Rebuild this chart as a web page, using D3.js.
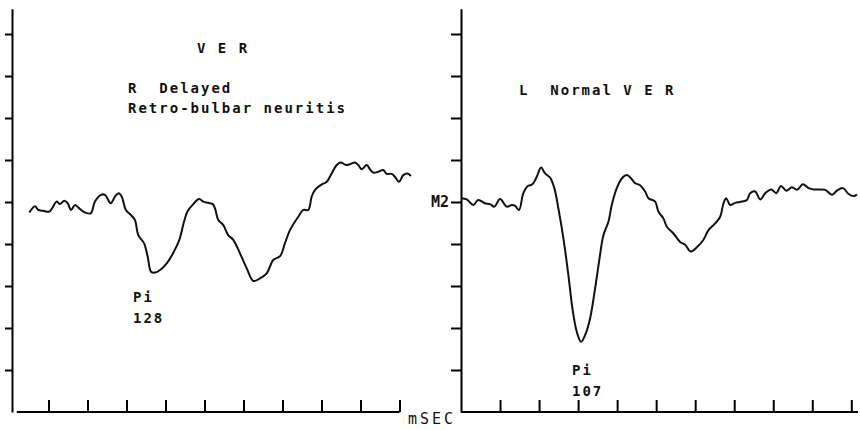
<!DOCTYPE html>
<html>
<head>
<meta charset="utf-8">
<script src="https://cdn.jsdelivr.net/npm/d3@7"></script>
<style>
  body { margin: 0; background: #fff; }
  text { font-family: "DejaVu Sans Mono", monospace; fill: #111; white-space: pre; }
</style>
</head>
<body>
<div class="container"></div>
<script>
const size = { width: 860, height: 430 };

// latency in ms (35 ms per tick), amplitude in divisions from the M2 baseline
const rightEyeTime = [17.8, 22.9, 25.8, 30.3, 35.7, 42.4, 45.3, 49.2, 52.2, 55.2, 58.8, 63.3, 67.8, 72.9, 76.7, 82.1, 85.7, 90.8, 94.7, 98.0, 100.7, 104.5, 109.0, 112.6, 115.6, 120.7, 124.0, 127.0, 130.6, 135.1, 141.1, 147.0, 152.4, 156.6, 159.6, 164.9, 170.1, 173.9, 178.4, 182.4, 184.4, 187.4, 191.9, 196.3, 200.8, 206.8, 212.9, 218.8, 224.8, 230.8, 236.7, 242.8, 247.2, 251.7, 259.2, 263.7, 268.1, 271.2, 274.2, 280.2, 284.7, 289.1, 293.6, 297.2, 302.0, 305.6, 310.1, 313.0, 316.1, 320.6, 323.5, 326.5, 331.0, 335.4, 338.5, 343.0, 345.9, 349.5, 353.4, 357.0, 360.3];
const rightEyeAmp = [-0.25, -0.10, -0.19, -0.21, -0.23, 0.01, -0.05, 0.03, -0.03, -0.19, -0.07, -0.17, -0.25, -0.27, 0.01, 0.17, 0.17, -0.03, 0.13, 0.21, 0.13, -0.19, -0.31, -0.43, -0.79, -0.98, -1.30, -1.66, -1.68, -1.62, -1.46, -1.21, -0.90, -0.47, -0.23, -0.05, 0.07, 0.01, -0.02, -0.05, -0.15, -0.43, -0.55, -0.79, -0.90, -1.22, -1.58, -1.88, -1.82, -1.70, -1.38, -1.29, -0.98, -0.67, -0.35, -0.19, -0.19, 0.13, 0.29, 0.42, 0.48, 0.68, 0.88, 0.94, 0.88, 0.90, 0.94, 0.88, 0.78, 0.88, 0.78, 0.70, 0.72, 0.76, 0.67, 0.67, 0.60, 0.48, 0.64, 0.68, 0.62];

const leftEyeTime = [0.6, 5.1, 11.0, 15.5, 21.5, 26.0, 29.9, 35.0, 41.0, 45.5, 48.5, 52.0, 55.9, 59.9, 64.0, 67.9, 71.8, 75.4, 79.9, 83.7, 87.3, 91.8, 96.3, 99.9, 103.8, 107.7, 111.9, 115.8, 120.3, 123.8, 127.7, 132.2, 135.2, 139.7, 144.2, 148.7, 152.6, 156.1, 160.6, 165.1, 168.1, 174.1, 177.0, 181.5, 184.6, 190.5, 196.5, 201.0, 206.1, 211.5, 217.4, 221.9, 227.9, 232.4, 235.4, 237.8, 241.4, 245.9, 251.9, 256.4, 259.3, 263.8, 268.3, 272.8, 278.2, 282.7, 286.9, 291.7, 296.8, 301.3, 306.6, 311.7, 316.2, 322.2, 326.7, 332.7, 337.1, 342.5, 347.6, 352.1, 355.1];
const leftEyeAmp = [0.09, 0.06, -0.07, 0.05, -0.03, -0.05, -0.11, 0.07, -0.11, -0.07, -0.09, -0.19, 0.21, 0.38, 0.42, 0.60, 0.82, 0.68, 0.58, 0.33, -0.15, -0.86, -1.74, -2.53, -3.09, -3.33, -3.13, -2.77, -2.05, -1.42, -0.79, -0.47, -0.07, 0.33, 0.56, 0.64, 0.56, 0.45, 0.40, 0.25, 0.09, 0.01, -0.23, -0.39, -0.59, -0.75, -0.95, -1.02, -1.18, -1.08, -0.90, -0.67, -0.51, -0.35, -0.03, 0.09, -0.07, -0.02, 0.01, 0.05, 0.21, 0.25, 0.06, 0.21, 0.30, 0.21, 0.38, 0.27, 0.35, 0.29, 0.42, 0.33, 0.30, 0.30, 0.29, 0.17, 0.27, 0.33, 0.19, 0.14, 0.18];

const timeTicks = [35, 70, 105, 140, 175, 210, 245, 280, 315, 350];
const ampTicks = [-4, -3, -2, -1, 0, 1, 2, 3, 4];

const svg = d3.select(".container")
  .append("svg")
  .attr("width", size.width)
  .attr("height", size.height);

const y = d3.scaleLinear().domain([-5, 4.6]).range([412, 8.8]);

const xLeft = d3.scaleLinear().domain([0, 350]).range([9.5, 399.5]);
const xRight = d3.scaleLinear().domain([0, 356]).range([461, 860 - 2]);

const drawPanel = (x, axisX, tickLen, times, amps, yFormat, xStart) => {
  const g = svg.append("g");

  g.append("g")
    .attr("transform", `translate(0,${y(-5)})`)
    .call(d3.axisBottom(x).tickValues(timeTicks).tickSizeInner(-12).tickSizeOuter(0).tickFormat(""))
    .call(a => a.select(".domain").attr("d", `M${x(xStart)},0H${x.range()[1]}`).attr("stroke-width", 2))
    .call(a => a.selectAll(".tick line").attr("stroke-width", 2));

  g.append("g")
    .attr("transform", `translate(${axisX},0)`)
    .call(d3.axisLeft(y).tickValues(ampTicks).tickSizeInner(tickLen).tickSizeOuter(0).tickPadding(2).tickFormat(yFormat))
    .call(a => a.select(".domain").attr("stroke-width", 2))
    .call(a => a.selectAll(".tick line").attr("stroke-width", 2))
    .call(a => a.selectAll(".tick text")
      .style("font-family", "DejaVu Sans Mono, monospace")
      .style("font-size", "15px")
      .style("font-weight", "bold")
      .attr("fill", "#111"));

  const pts = times.map((t, i) => [t, amps[i]]);
  g.append("path")
    .datum(pts)
    .attr("fill", "none")
    .attr("stroke", "#111")
    .attr("stroke-width", 2)
    .attr("stroke-linejoin", "round")
    .attr("d", d3.line().x(d => x(d[0])).y(d => y(d[1])).curve(d3.curveCatmullRom.alpha(0.5)));

  return g;
};

drawPanel(xLeft, 12, 7, rightEyeTime, rightEyeAmp, () => "", 6.5);
drawPanel(xRight, 461, 10, leftEyeTime, leftEyeAmp, d => d === 0 ? "M2" : "", 0);

const label = (x, yy, txt) =>
  svg.append("text")
    .attr("x", x).attr("y", yy)
    .attr("font-size", 14)
    .attr("letter-spacing", 2)
    .attr("font-weight", "bold")
    .text(txt);

label(197, 53, "V E R");
label(128, 93, "R  Delayed");
label(128, 113, "Retro-bulbar neuritis");
label(133, 302, "Pi");
label(133, 323, "128");
label(519, 95, "L  Normal V E R");
label(572, 375, "Pi");
label(572, 396, "107");

svg.append("text")
  .attr("x", 408).attr("y", 424)
  .attr("font-size", 15)
  .attr("letter-spacing", 3)
  .text("mSEC");
</script>
</body>
</html>
